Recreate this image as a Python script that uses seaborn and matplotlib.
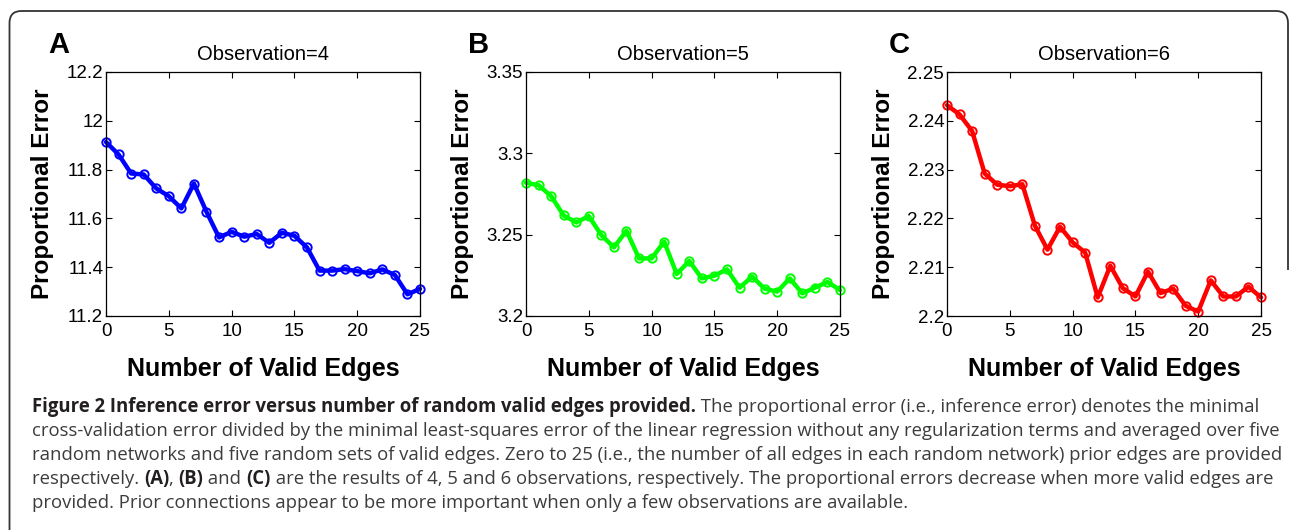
#!/usr/bin/env python3
# -*- coding: utf-8 -*-
"""
plot.py

Purpose:
    Inference error versus number of random valid edges (Figure 2 style)
"""
###########################################################
### Imports
import numpy as np
import pandas as pd
import seaborn as sns
import matplotlib.pyplot as plt
from matplotlib.path import Path
from matplotlib.patches import PathPatch

###########################################################
### Data
edges = list(range(26))

err_obs4 = [11.913, 11.862, 11.784, 11.780, 11.723, 11.691, 11.641, 11.743,
            11.627, 11.522, 11.545, 11.525, 11.536, 11.500, 11.541, 11.529,
            11.481, 11.386, 11.386, 11.392, 11.384, 11.375, 11.391, 11.368,
            11.289, 11.311]
err_obs5 = [3.2819, 3.2804, 3.2737, 3.2618, 3.2575, 3.2614, 3.2497, 3.2422,
            3.2524, 3.2354, 3.2354, 3.2457, 3.2258, 3.2338, 3.2231, 3.2248,
            3.2287, 3.2174, 3.2242, 3.2168, 3.2150, 3.2231, 3.2139, 3.2174,
            3.2209, 3.2160]
err_obs6 = [2.2432, 2.2413, 2.2379, 2.2292, 2.2269, 2.2266, 2.2270, 2.2185,
            2.2136, 2.2183, 2.2151, 2.2130, 2.2038, 2.2103, 2.2057, 2.2040,
            2.2091, 2.2047, 2.2056, 2.2021, 2.2009, 2.2073, 2.2040, 2.2040,
            2.2060, 2.2038]

panel_letters = ["A", "B", "C"]
panel_titles = ["Observation=4", "Observation=5", "Observation=6"]
panel_colors = ["#0000ff", "#00ff00", "#ff0000"]
xticks = [0, 5, 10, 15, 20, 25]
yticks_list = [[11.2, 11.4, 11.6, 11.8, 12.0, 12.2],
               [3.2, 3.25, 3.3, 3.35],
               [2.2, 2.21, 2.22, 2.23, 2.24, 2.25]]
ytick_labels = [["11.2", "11.4", "11.6", "11.8", "12", "12.2"],
                ["3.2", "3.25", "3.3", "3.35"],
                ["2.2", "2.21", "2.22", "2.23", "2.24", "2.25"]]

caption_lines = [
    [("Figure 2 Inference error versus number of random valid edges provided.", True),
     (" The proportional error (i.e., inference error) denotes the minimal", False)],
    [("cross-validation error divided by the minimal least-squares error of the linear "
      "regression without any regularization terms and averaged over five", False)],
    [("random networks and five random sets of valid edges. Zero to 25 (i.e., the number "
      "of all edges in each random network) prior edges are provided", False)],
    [("respectively. ", False), ("(A)", True), (", ", False), ("(B)", True),
     (" and ", False), ("(C)", True),
     (" are the results of 4, 5 and 6 observations, respectively. The proportional "
      "errors decrease when more valid edges are", False)],
    [("provided. Prior connections appear to be more important when only a few "
      "observations are available.", False)],
]


###########################################################
### main
def main():
    W, H = 1292, 530
    sns.set_style("ticks")
    plt.rcParams['font.family'] = ['Liberation Sans', 'DejaVu Sans']
    plt.rcParams['text.color'] = 'black'
    plt.rcParams['axes.labelcolor'] = 'black'
    plt.rcParams['xtick.color'] = 'black'
    plt.rcParams['ytick.color'] = 'black'

    fig = plt.figure(figsize=(W / 100, H / 100), dpi=100)

    # panel positions in pixels: left, right, top, bottom
    lefts = [106, 526, 947]
    width_px = 314
    top_px, bot_px = 72, 316

    data = [err_obs4, err_obs5, err_obs6]
    for i in range(3):
        ax = fig.add_axes([lefts[i] / W, 1 - bot_px / H, width_px / W,
                           (bot_px - top_px) / H])
        df = pd.DataFrame({'edges': edges, 'err': data[i]})
        sns.lineplot(data=df, x='edges', y='err', ax=ax, color=panel_colors[i],
                     linewidth=3.2, marker='o', markersize=6,
                     markerfacecolor='none', markeredgecolor=panel_colors[i],
                     markeredgewidth=1.4, clip_on=False)
        ax.set_xlim(0, 25)
        ax.set_ylim(yticks_list[i][0], yticks_list[i][-1])
        ax.set_xticks(xticks)
        ax.set_xticklabels([str(t) for t in xticks])
        ax.set_yticks(yticks_list[i])
        ax.set_yticklabels(ytick_labels[i])
        ax.tick_params(direction='in', length=4, width=0.8, top=True, right=True,
                       labelsize=13.5, colors='black')
        ax.tick_params(axis='x', pad=5)
        ax.tick_params(axis='y', pad=2)
        for sp in ax.spines.values():
            sp.set_visible(True)
            sp.set_linewidth(0.9)
            sp.set_color('black')
        ax.set_xlabel("Number of Valid Edges", fontsize=18, fontweight='bold',
                      labelpad=12)
        ax.set_ylabel("Proportional Error", fontsize=17.5, fontweight='bold')
        # right edge of the rotated label sits about 52 px left of the axes
        ax.yaxis.set_label_coords(-52 / width_px, 0.5)
        ax.set_title(panel_titles[i], fontsize=14.5, pad=9)
        fig.text((lefts[i] - 58) / W, 1 - 45 / H, panel_letters[i],
                 fontsize=21, fontweight='bold', ha='left', va='center')

    # rounded frame (top and sides)
    x0, x1 = 9.5 / W, 1288 / W
    y0 = 1 - 11 / H
    r = 12
    rx, ry = r / W, r / H
    verts = [(x0, 0.0), (x0, y0 - ry), (x0, y0), (x0 + rx, y0),
             (x1 - rx, y0), (x1, y0), (x1, y0 - ry), (x1, 1 - 270 / H)]
    codes = [Path.MOVETO, Path.LINETO, Path.CURVE3, Path.CURVE3,
             Path.LINETO, Path.CURVE3, Path.CURVE3, Path.LINETO]
    fig.patches.append(PathPatch(Path(verts, codes), transform=fig.transFigure,
                                 fill=False, edgecolor='#333333', linewidth=1.3))

    # caption, fitted to the width of the longest line
    renderer = fig.canvas.get_renderer()
    cap_left, cap_right = 32, 1278
    base_size = 12.0
    probe = fig.text(0, 0, caption_lines[2][0][0], fontsize=base_size,
                     family='Open Sans')
    probe_w = probe.get_window_extent(renderer).width
    probe.remove()
    cap_size = base_size * (cap_right - cap_left) / probe_w

    line_y = [407, 431, 455, 479, 503]
    for k, parts in enumerate(caption_lines):
        x = cap_left
        for txt, bold in parts:
            t = fig.text(x / W, 1 - line_y[k] / H, txt, fontsize=cap_size,
                         family='Open Sans',
                         fontweight='bold' if bold else 'normal',
                         color='#231f20' if bold else '#3c3c3c',
                         ha='left', va='center')
            x += t.get_window_extent(renderer).width

    fig.savefig('out.png', dpi=100)


###########################################################
### start main
if __name__ == "__main__":
    main()
